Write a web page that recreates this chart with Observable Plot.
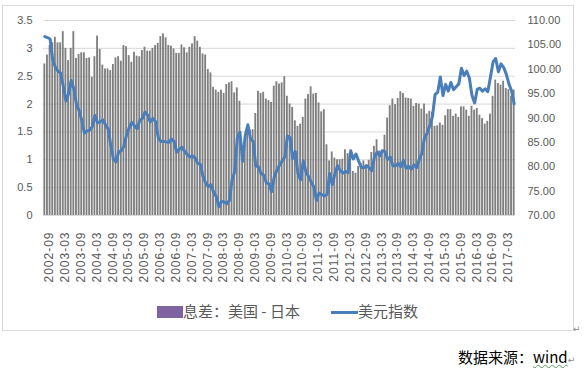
<!DOCTYPE html>
<html><head><meta charset="utf-8">
<script src="https://cdn.jsdelivr.net/npm/d3@7"></script>
<script src="https://cdn.jsdelivr.net/npm/@observablehq/plot@0.6"></script>
<style>
body{margin:0;background:#fff;}
#wrap{position:relative;width:585px;height:368px;overflow:hidden;background:#fff;}
#frame{position:absolute;left:2px;top:5px;width:572px;height:326px;border:1px solid #d9d9d9;box-sizing:border-box;}
#chart{position:absolute;left:0;top:0;}
.leg{position:absolute;font-family:"Noto Sans CJK SC",sans-serif;font-size:15px;color:#595959;line-height:1;white-space:nowrap;}
#src{position:absolute;left:458px;top:349px;font-family:"Noto Sans CJK SC",sans-serif;font-size:15px;color:#000;line-height:1;white-space:nowrap;}
#src .w{text-decoration:underline wavy #5a9a5a;text-decoration-thickness:1px;text-underline-offset:1px;}
.ret{font-family:"DejaVu Sans",sans-serif;font-size:9px;color:#888;}
</style></head>
<body><div id="wrap">
<div id="frame"></div>
<div id="chart"></div>
<div class="leg" style="left:157px;top:306px;width:26px;height:12px;background:#8064a2;"></div>
<div class="leg" style="left:183px;top:303px;">息差：美国 - 日本</div>
<div class="leg" style="left:331px;top:311px;width:27px;height:3px;background:#4a7ebb;"></div>
<div class="leg" style="left:358px;top:303px;">美元指数</div>
<div class="ret" style="position:absolute;left:573px;top:324px;">↵</div>
<div id="src">数据来源：<span class="w">wind</span><span class="ret">↵</span></div>
</div>
<script>
// categories: monthly, 2002-09 .. 2017-07
const months = d3.utcMonth.range(new Date(Date.UTC(2002,8,1)), new Date(Date.UTC(2017,7,1))).map(d3.utcFormat("%Y-%m"));
// 息差：美国 - 日本 (left axis)
const spread = [
  2.72,2.88,3.05,3.10,
  3.20,3.10,3.10,3.30,3.00,2.78,3.00,3.30,2.82,2.89,2.92,2.92,
  2.82,2.83,2.48,2.85,3.22,2.98,2.70,2.63,2.63,2.60,2.71,2.83,
  2.85,2.77,3.05,3.03,2.87,2.75,2.93,2.86,2.85,2.96,3.02,2.95,
  2.95,3.00,3.05,3.09,3.21,3.26,3.19,3.05,3.04,2.99,2.91,2.91,
  3.06,3.01,2.92,3.02,3.08,3.21,3.13,3.02,2.90,2.88,2.62,2.56,
  2.30,2.25,2.21,2.25,2.19,2.35,2.38,2.40,2.20,2.29,2.05,1.10,
  1.27,1.59,1.53,1.54,1.83,2.23,2.19,2.21,2.09,2.06,2.03,2.32,
  2.40,2.36,2.38,2.49,2.14,2.00,1.94,1.70,1.60,1.64,1.76,2.09,
  2.17,2.31,2.18,2.19,2.02,1.86,1.90,1.27,0.98,1.14,1.03,1.00,
  1.00,1.01,1.18,1.11,0.94,0.79,0.76,0.88,0.93,0.98,0.91,0.99,
  1.13,1.24,1.36,1.16,1.14,1.44,1.75,1.97,2.09,1.99,2.10,2.22,
  2.19,2.11,2.10,2.09,1.96,2.01,2.00,1.91,2.00,1.82,1.87,1.85,
  1.60,1.61,1.66,1.62,1.79,1.90,1.90,1.78,1.82,1.76,1.95,1.95,
  1.89,1.78,1.96,1.89,1.92,1.80,1.74,1.64,1.69,1.82,2.14,2.43,
  2.37,2.34,2.41,2.28,2.26,2.14,2.25
];
// 美元指数 (right axis)
const dxy = [
  106.7,106.5,106.2,101.9,
  100.4,99.6,99.2,96.5,93.5,95.0,97.7,96.0,92.8,91.5,89.5,86.9,
  87.3,87.5,88.2,90.5,89.0,89.2,89.6,88.6,87.8,84.5,81.6,81.0,
  83.0,83.3,84.2,86.5,88.0,89.1,88.4,87.8,89.5,89.9,91.2,90.6,
  89.2,89.9,89.3,86.0,85.2,85.2,85.1,85.0,85.7,85.2,83.0,83.6,
  84.0,83.2,82.5,82.0,82.2,81.8,80.7,80.5,78.0,76.7,75.9,76.3,
  74.8,73.9,71.8,72.9,72.8,72.4,73.1,77.2,79.0,85.9,87.1,81.1,
  86.4,88.6,85.8,85.2,80.2,80.0,78.6,78.3,76.7,76.5,74.9,77.9,
  79.3,80.3,81.2,82.0,86.3,86.0,81.7,83.1,78.6,77.3,81.2,79.0,
  78.0,76.9,75.9,73.1,74.6,74.3,74.0,74.3,78.6,76.3,78.5,80.2,
  79.3,78.7,79.0,78.8,83.3,81.6,82.6,81.2,79.9,79.8,80.2,79.8,
  79.2,82.0,83.0,82.2,83.3,83.1,81.5,82.0,80.2,80.2,80.7,80.0,
  81.3,79.7,80.1,79.5,80.4,79.8,81.5,82.8,85.9,86.9,88.4,90.3,
  94.8,95.3,98.4,94.6,96.9,95.5,97.3,95.8,96.4,97.0,100.2,98.7,
  99.6,98.2,94.6,93.1,95.9,96.1,95.5,96.0,95.4,98.4,101.5,102.2,
  99.5,101.1,100.4,99.0,97.0,95.6,92.9
];
// tick labels
const xTickLabels = ["2002-09","2003-03","2003-09","2004-03","2004-09","2005-03","2005-09","2006-03","2006-09","2007-03","2007-09","2008-03","2008-09","2009-03","2009-09","2010-03","2010-09","2011-03","2011-09","2012-03","2012-09","2013-03","2013-09","2014-03","2014-09","2015-03","2015-09","2016-03","2016-09","2017-03"];
const leftTicks = [0,0.5,1,1.5,2,2.5,3,3.5];
const rightTicks = [70,75,80,85,90,95,100,105,110];
const leftMax = 3.5, rightMin = 70, rightMax = 110;

const toLeft = v => (v - rightMin) / (rightMax - rightMin) * leftMax;
const toRight = p => rightMin + p / leftMax * (rightMax - rightMin);

const data = months.map((m, i) => ({month: m, spread: spread[i], dxy: dxy[i]}));

const chart = Plot.plot({
  width: 585,
  height: 300,
  marginLeft: 43,
  marginRight: 70,
  marginTop: 20,
  marginBottom: 85,
  style: {fontFamily: "Liberation Sans, sans-serif", fontSize: "11px", color: "#595959", background: "transparent"},
  x: {type: "band", domain: months, paddingInner: 0.3, paddingOuter: 0.15},
  y: {domain: [0, leftMax]},
  marks: [
    Plot.ruleY(leftTicks, {stroke: "#d9d9d9", strokeWidth: 1}),
    Plot.barY(data, {x: "month", y: "spread", fill: "#7f7f7f"}),
    Plot.lineY(data, {x: "month", y: d => toLeft(d.dxy), stroke: "#4a7ebb", strokeWidth: 3, strokeLinejoin: "round"}),
    Plot.axisY(leftTicks, {anchor: "left", tickSize: 0, tickPadding: 11, label: null, tickFormat: d => String(d)}),
    Plot.axisY(rightTicks.map(toLeft), {anchor: "right", tickSize: 0, tickPadding: 12, label: null, tickFormat: p => toRight(p).toFixed(2)}),
    Plot.axisX(xTickLabels, {anchor: "bottom", rotate: -90, textAnchor: "end", tickSize: 0, tickPadding: 16, label: null, fontSize: 12})
  ]
});
d3.select(chart).selectAll('g[aria-label="x-axis tick label"] text').style("letter-spacing", "1px");
document.getElementById("chart").appendChild(chart);
</script>
</body></html>
